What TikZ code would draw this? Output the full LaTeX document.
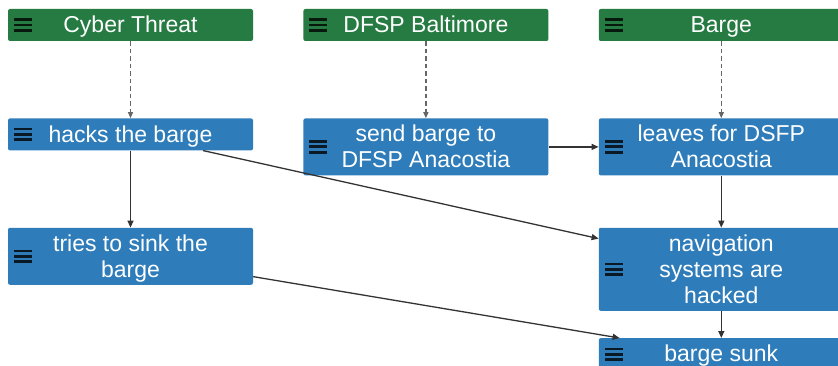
\documentclass[tikz,border=0pt]{standalone}
\usepackage{fontspec}
\setmainfont{Liberation Sans}
\usepackage{xcolor}
\usepackage{tikz}
\usetikzlibrary{arrows.meta,positioning,calc}
\definecolor{verdeAtor}{HTML}{267B42}
\definecolor{azulEvento}{HTML}{2E7DBA}
\definecolor{linha}{HTML}{333333}
\tikzset{
    bloco/.style={
        rectangle,
        rounded corners=2pt,
        align=center,
        minimum width=245pt,
        minimum height=32pt,
        inner sep=2pt,
        text height=17pt,
        text depth=1.5pt,
        text=white,
        font=\fontsize{23}{26}\selectfont,
        path picture={
            \foreach \dy in {-5.3,0,5.3}
                \draw[line width=2.8pt, black, opacity=0.8]
                    ([xshift=6pt,yshift=\dy pt]path picture bounding box.west) -- ++(18pt,0);
        }
    },
    ator/.style={bloco, fill=verdeAtor},
    evento/.style={bloco, fill=azulEvento},
    duasLinhas/.style={minimum height=57pt, text height=43pt},
    tresLinhas/.style={minimum height=83pt, text height=69pt},
    fluxo/.style={-{Triangle[length=7pt,width=6pt]}, linha, line width=1.3pt},
    origem/.style={-{Triangle[length=6pt,width=5pt]}, black!60, dash pattern=on 4.5pt off 3pt, line width=1.2pt}
}

\begin{document}
\begin{tikzpicture}[
        node distance=77pt and 50pt
    ]
        \useasboundingbox (0,0) rectangle (838pt,-366pt);
        \node[ator] (cyber) at (130.5pt,-25pt) {Cyber Threat};
        \node[ator, right=of cyber] (baltimore) {DFSP Baltimore};
        \node[ator, right=of baltimore] (barge) {Barge};
        \node[evento, below=of cyber] (hacks) {hacks the barge};
        \node[evento, duasLinhas, below=of baltimore] (send) {send barge to\\DFSP Anacostia};
        \node[evento, duasLinhas, below=of barge] (leaves) {leaves for DSFP\\Anacostia};
        \node[evento, duasLinhas, below=of hacks] (tries) {tries to sink the\\barge};
        \node[evento, tresLinhas, below=52pt of leaves] (nav) {navigation\\systems are\\hacked};
        \node[evento, below=27pt of nav] (sunk) {barge sunk};
        \coordinate (navin) at ([yshift=-11pt]nav.north west);
        \coordinate (sunkin) at ([xshift=21pt]sunk.north west);

        \draw[origem] (cyber) -- (hacks);
        \draw[origem] (baltimore) -- (send);
        \draw[origem] (barge) -- (leaves);
        \draw[fluxo] (hacks) -- (tries);
        \draw[fluxo] (hacks) -- (navin);
        \draw[fluxo] (send) -- (leaves);
        \draw[fluxo] (leaves) -- (nav);
        \draw[fluxo] (nav) -- (sunk);
        \draw[fluxo] (tries) -- (sunkin);
    \end{tikzpicture}
\end{document}
